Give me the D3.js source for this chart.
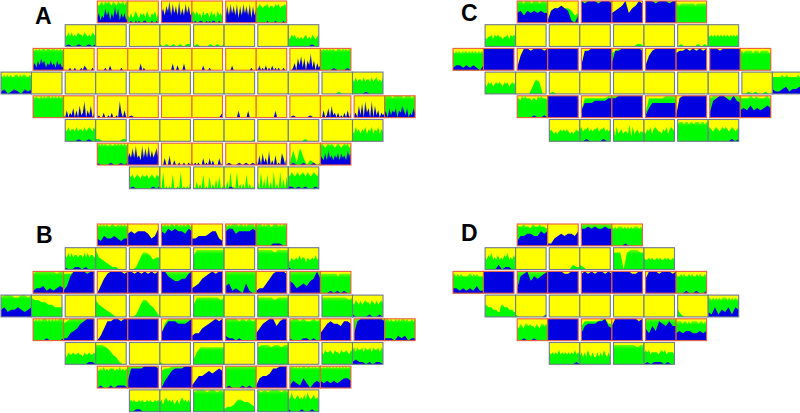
<!DOCTYPE html>
<html>
<head>
<meta charset="utf-8">
<script src="https://cdn.jsdelivr.net/npm/d3@7/dist/d3.min.js"></script>
<style>
  html, body { margin: 0; background: #fff; }
  svg { display: block; }
  .letter { font: bold 23px "Liberation Sans", Arial, sans-serif; fill: #000; }
</style>
</head>
<body>
<svg id="chart" width="800" height="413"></svg>
<script>
// every string is one cell: readings from 0 (empty) to 9 (full height), left to right.
// spiky cells have 20 readings, the calmer ones 10.
// "" means the cell is all yellow. green is the top of the green band.
var pairsA = [3, 4, 5, 6, 6, 5, 4, 3];
var firstColA = [3, 2, 1, 0, 1, 2, 3, 4];
var blueA = [
  ["24132635142736142413","00100101001100010010","46375938473936384735","10100110010101100100","37384738273847382736","00000001000010000100"],
  ["0100100101","","","","","","","0000000100"],
  ["23142534132423142312","00001001000102100010","00000100200000010000","00000000301000000000","00000003002000300000","00000002000100000000","00002000000000001000","10201020102010100100","00130526150427140312","0000100010"],
  ["1201210212","","","","","","","","","","","0000100000"],
  ["","10302140305127031502","01002001020010720301","0100000000","","0000000002","00000000300000300000","00000000000030000000","0100001000","00301405120201020302","12051607240705130212","32041324032531402142"],
  ["0000100100","","","","","","","","",""],
  ["1000100101","35373834283738363573","00300400200100100102","10101003010302000301","0100101010","20405130602040105304","0100100100","43252634243525342645"],
  ["0100000101","","","0010000000","","1101010010"]
];
var greenA = [
  ["87897989879879889798","32423532434253243524","","45353425344253425342","","76876778677687867786"],
  ["54646454655465454654","","","1010101011","0100010101","","","43545343434534354345"],
  ["98989899899899898989","","","","","","","","","98989898988998989898"],
  ["87878787788787887787","","","","","","","","","","0000010000","65756657566575675657"],
  ["98988989899898989898","","","","","","","","","","","99999899999989999899"],
  ["54645546455464565464","1100000011","","","","0000000001","","0000010000","","53645354635463546354"],
  ["89898988988989898989","","","","","","1617302101","89878989878987898978"],
  ["55645654655645654656","10701010600107010103","10302060105020405010","20307010702020602010","30704060307020704050","65765675676576567657"]
];

var pairsB = [3, 4, 5, 6, 6, 5, 4, 3];
var firstColB = [3, 2, 1, 0, 1, 2, 3, 4];
var blueB = [
  ["3243343233","5656665347","6576766576","3344456632","6775666676","0000011100"],
  ["1001101000","","","","","","","1000000000"],
  ["1223121232","1379999899","0368999989","9989898989","9976556689","2346789899","3412104100","1224689998","5423435696","0001010100"],
  ["3423343234","","","","","","","","","","","1000010010"],
  ["0000100001","1134578999","0258899899","9999999999","3688877789","2335678989","2110100000","3578996899","1000110100","3578776887","3899999998","1110212011"],
  ["0000000110","","","","","","","","","1211010110"],
  ["0100101110","3888899998","0357888999","1355676787","0100010100","1455688999","1321420232","3232323443"],
  ["0011000000","","","","","1000100100"]
];
var greenB = [
  ["98989898899889898989","","98989899899898989989","","98989999899898999989","89998989988999898998"],
  ["65757566566575756656","8543211000","0014776455","","6888888888","","8888878888","53544546455354454645"],
  ["8999999899","8889999999","","","9999999999","","9999999999","","9999999999","88888888888788888888"],
  ["8999889989","8776655444","","7543210000","0014775420","","5888888878","","8888878888","","8888888878","65765756766576575676"],
  ["98989899989898989998","7899999999","","","3799999999","","9999898989","","8998988989","","9999999999","89989889898998988989"],
  ["43544544544354454454","8887643100","","1000000000","2577777777","","7888788788","","54655654655465565465","67576675766757667576"],
  ["87879787888787978788","9999999999","7889999999","","9999999999","","89989898998998989899","98989898989898989898"],
  ["45454454544545445454","45356454534535645453","8999899898","1223554432","9898999898","75865675657586567565"]
];

var pairsC = [3, 4, 5, 5, 4, 3];
var firstColC = [2, 1, 0, 1, 2, 3];
var blueC = [
  ["4535454544","1566765103","9899989998","4567946798","9998999899",""],
  ["","","","","","","",""],
  ["1221212102","9999999999","1699899989","9999999999","2889999999","3889999998","2689999999","7889898989","9998999999",""],
  ["","","","","","","","","","2112312232"],
  ["0000010010","9999999999","3666777788","8899999999","1466666666","1899999999","2789987976","3435343454"],
  ["","0010000100","","","","0000000101"]
];
var greenC = [
  ["99998999989999899998","1566766534","9999999999","","9999999999","88788888888878888888"],
  ["43445354544344535454","","","","0000000110","","0100001010","54545454545454545454"],
  ["87878787878787878787","","","","","7899999999","","","","88788888788878888878"],
  ["43545345454354534545","0000036500","0100000000","","","","","","0010100100","77777787787777778778"],
  ["88798988878879898887","","3888888899","9999999999","2888889999","","8999999999","98888899889888889988"],
  ["45434345454543434545","56455645455645564545","72634534437263453443","43546356544354635654","78887887887888788788","56545654565654565456"]
];

var pairsD = [2, 3, 4, 4, 3, 2];
var firstColD = [2, 1, 0, 1, 2, 3];
var blueD = [
  ["2445544656","1134545546","7787877877","0000100000"],
  ["0000201100","","","","",""],
  ["2212121311","9999999999","2789576789","9999988999","8989899898","9999998899","6999899989","0001001001"],
  ["","0000000001","","","","","","2141324143"],
  ["0010010000","9999999999","3677788965","6999999989","5364876866","3434433434"],
  ["0000000010","","","0101110100"]
];
var greenD = [
  ["98889888789888988878","","9999999999","87878887878787888787"],
  ["54657454645465745464","","0000000211","2100000000","7770788877","54454544545445454454"],
  ["88787877778878787777","","9999999999","","","","","87787877878778787787"],
  ["55444333225544433322","1000000001","","","","","3100000000","88787878788878787878"],
  ["65765776766576577676","","6888889977","","9999999999","88887887878888788787"],
  ["54545464545454546454","35353643533535364353","8888888788","56564555545656455554"]
];

var panels = [
  {label: "A", pairs: pairsA, firstCol: firstColA, blue: blueA, green: greenA, x0: 1,   y0: 1,   lx: 35,  ly: 24,  blueFill: "url(#blueFade)"},
  {label: "B", pairs: pairsB, firstCol: firstColB, blue: blueB, green: greenB, x0: 1,   y0: 224, lx: 36,  ly: 243, blueFill: "#0000e0"},
  {label: "C", pairs: pairsC, firstCol: firstColC, blue: blueC, green: greenC, x0: 453, y0: 1,   lx: 461, ly: 21,  blueFill: "#0000e0"},
  {label: "D", pairs: pairsD, firstCol: firstColD, blue: blueD, green: greenD, x0: 453, y0: 224, lx: 461, ly: 241, blueFill: "#0000e0"}
];

var colStep = 32.1, rowStep = 23.7, cellW = 30.5, cellH = 21.8;

var y = d3.scaleLinear().domain([0, 9]).range([cellH, 0]);

var svg = d3.select("#chart");
var defs = svg.append("defs");

// the source is a soft jpeg, so the cells get a slight blur
defs.append("filter")
    .attr("id", "soft")
    .attr("x", "-5%").attr("y", "-5%").attr("width", "110%").attr("height", "110%")
  .append("feGaussianBlur")
    .attr("stdDeviation", 0.5);

function fade(id, stops) {
  var grad = defs.append("linearGradient")
      .attr("id", id)
      .attr("x1", 0).attr("y1", 1).attr("x2", 0).attr("y2", 0);
  stops.forEach(function(s) {
    grad.append("stop").attr("offset", s[0]).attr("stop-color", s[1]);
  });
}
fade("greenFade", [[0, "#00fa00"], [0.8, "#00fa00"], [1, "#70fa00"]]);
fade("blueFade", [[0, "#0000e0"], [0.4, "#0000e0"], [1, "#6a6a90"]]);

// draws one band of a cell, the x scale depends on how many readings it has
function band(cell, s, fill) {
  if (!s) return;
  var vals = s.split("").map(Number);
  var x = d3.scaleLinear().domain([0, vals.length - 1]).range([0, cellW]);
  var area = d3.area()
      .x(function(d, i) { return x(i); })
      .y0(cellH)
      .y1(function(d) { return y(d); });
  cell.append("path").datum(vals).attr("fill", fill).attr("d", area);
}

panels.forEach(function(p) {
  var g = svg.append("g")
      .attr("filter", "url(#soft)")
      .attr("transform", "translate(" + p.x0 + "," + p.y0 + ")");

  p.pairs.forEach(function(n, r) {
    var edge = r % 2 == 0 ? "#ea5f3f" : "#6f7a92";
    for (var i = 0; i < n; i++) {
      var px = (p.firstCol[r] + i * 2) * colStep;
      var pg = g.append("g").attr("transform", "translate(" + px + "," + r * rowStep + ")");
      [0, 1].forEach(function(side) {
        var k = i * 2 + side;
        var cell = pg.append("g").attr("transform", "translate(" + side * cellW + ",0)");
        cell.append("rect").attr("width", cellW).attr("height", cellH).attr("fill", "#ffff00");
        band(cell, p.green[r][k], "url(#greenFade)");
        band(cell, p.blue[r][k], p.blueFill);
        cell.append("rect")
            .attr("width", cellW).attr("height", cellH)
            .attr("fill", "none")
            .attr("stroke", edge)
            .attr("stroke-width", 1.1);
      });
    }
  });

  svg.append("text")
      .attr("class", "letter")
      .attr("x", p.lx)
      .attr("y", p.ly)
      .text(p.label);
});
</script>
</body>
</html>
